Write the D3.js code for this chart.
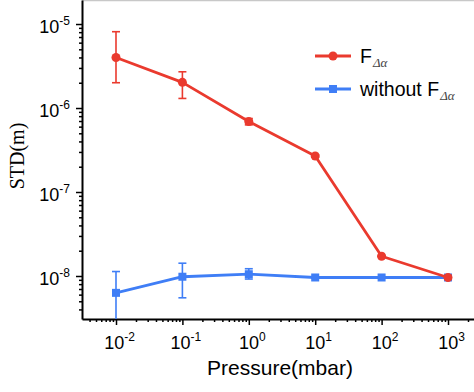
<!DOCTYPE html>
<html><head><meta charset="utf-8">
<script src="https://cdn.jsdelivr.net/npm/d3@7"></script>
<style>body{margin:0;background:#fff}svg{display:block}</style>
</head><body>
<svg id="c" width="474" height="392"></svg>
<script>
const pressure = [1e-2, 1e-1, 1e0, 1e1, 1e2, 1e3];
const withF = [4.0e-6, 2.02e-6, 6.9e-7, 2.68e-7, 1.72e-8, 9.6e-9];
const withFLow = [2.0e-6, 1.3e-6, 6.3e-7, 2.6e-7, 1.7e-8, 9.5e-9];
const withFHigh = [8.1e-6, 2.7e-6, 7.5e-7, 2.76e-7, 1.74e-8, 9.7e-9];
const withoutF = [6.3e-9, 9.8e-9, 1.05e-8, 9.6e-9, 9.6e-9, 9.6e-9];
const withoutFLow = [1.3e-9, 5.5e-9, 9.2e-9, 9.4e-9, 9.4e-9, 9.4e-9];
const withoutFHigh = [1.13e-8, 1.42e-8, 1.22e-8, 9.8e-9, 9.8e-9, 9.8e-9];
const xTickExp = [-2, -1, 0, 1, 2, 3];
const yTickExp = [-8, -7, -6, -5];
const seriesNames = ["F", "without F"];

const RED = "#ea3a2e", BLUE = "#3f7ef6";
const svg = d3.select("#c");
const L = 82, B = 319, T = 0, R = 482;
const x = d3.scaleLog().domain([Math.pow(10,-2.512), Math.pow(10,3.512)]).range([L, R]);
const y = d3.scaleLog().domain([Math.pow(10,-8.512), Math.pow(10,-4.714)]).range([B, T]);

function minors(lo, hi){ const a=[]; for(let e=lo;e<=hi;e++) for(let k=2;k<=9;k++) a.push(k*Math.pow(10,e)); return a; }
const xMin = minors(-3,3).filter(v=>v>x.domain()[0]&&v<x.domain()[1]);
const yMin = minors(-9,-5).filter(v=>v>y.domain()[0]&&v<y.domain()[1]);

// top frame line
svg.append("line").attr("x1",L).attr("x2",474).attr("y1",0.5).attr("y2",0.5).attr("stroke","#c8c8c8").attr("stroke-width",1.5);

// minor ticks
svg.append("g").attr("transform",`translate(0,${B})`).call(d3.axisBottom(x).tickValues(xMin).tickSize(3).tickFormat("")).call(g=>{g.select(".domain").remove();g.selectAll("line").attr("stroke-width",1.5);});
svg.append("g").attr("transform",`translate(${L},0)`).call(d3.axisLeft(y).tickValues(yMin).tickSize(3).tickFormat("")).call(g=>{g.select(".domain").remove();g.selectAll("line").attr("stroke-width",1.5);});

// major axes
const xa = svg.append("g").attr("transform",`translate(0,${B})`)
  .call(d3.axisBottom(x).tickValues(xTickExp.map(e=>Math.pow(10,e))).tickSize(6).tickSizeOuter(0).tickPadding(8));
const ya = svg.append("g").attr("transform",`translate(${L},0)`)
  .call(d3.axisLeft(y).tickValues(yTickExp.map(e=>Math.pow(10,e))).tickSize(6).tickSizeOuter(0).tickPadding(6));
[xa,ya].forEach(g=>{
  g.select(".domain").attr("stroke-width",2);
  g.selectAll(".tick line").attr("stroke-width",1.5);
  g.selectAll(".tick text").each(function(d){
    const t=d3.select(this); const e=Math.round(Math.log10(d));
    t.text(null).attr("font-family","Liberation Sans, Arial, sans-serif").attr("font-size",18).attr("fill","#000");
    t.append("tspan").text("10");
    t.append("tspan").attr("font-size",12).attr("dy",-8).text(String(e));
  });
});
xa.selectAll(".tick text").attr("dy","0.9em").attr("dx",3);
ya.selectAll(".tick text").attr("dy","0.45em");

// axis titles
svg.append("text").attr("x",280).attr("y",375).attr("text-anchor","middle")
  .attr("font-family","Liberation Sans, Arial, sans-serif").attr("font-size",21).text("Pressure(mbar)");
svg.append("text").attr("transform","translate(24,156) rotate(-90)").attr("text-anchor","middle")
  .attr("font-family","Liberation Serif, Times New Roman, serif").attr("font-size",20).text("STD(m)");

// clip
svg.append("clipPath").attr("id","clip").append("rect").attr("x",L).attr("y",T).attr("width",R-L).attr("height",B-T);
const plot = svg.append("g").attr("clip-path","url(#clip)");

function drawSeries(vals, lo, hi, color, shape){
  const g = plot.append("g");
  const line = d3.line().x((d,i)=>x(pressure[i])).y(d=>y(d));
  g.append("path").datum(vals).attr("d",line).attr("fill","none").attr("stroke",color).attr("stroke-width",2.8).attr("stroke-linejoin","round");
  pressure.forEach((p,i)=>{
    const cx=x(p);
    g.append("line").attr("x1",cx).attr("x2",cx).attr("y1",y(lo[i])).attr("y2",y(hi[i])).attr("stroke",color).attr("stroke-width",1.6);
    [lo[i],hi[i]].forEach(v=>g.append("line").attr("x1",cx-4).attr("x2",cx+4).attr("y1",y(v)).attr("y2",y(v)).attr("stroke",color).attr("stroke-width",1.6));
  });
  pressure.forEach((p,i)=>{
    if(shape==="circle") g.append("circle").attr("cx",x(p)).attr("cy",y(vals[i])).attr("r",4.5).attr("fill",color);
    else g.append("rect").attr("x",x(p)-4).attr("y",y(vals[i])-4).attr("width",8).attr("height",8).attr("fill",color);
  });
}
drawSeries(withoutF, withoutFLow, withoutFHigh, BLUE, "square");
drawSeries(withF, withFLow, withFHigh, RED, "circle");

// legend
const leg = svg.append("g").attr("font-family","Liberation Sans, Arial, sans-serif");
[[RED,"circle",56,seriesNames[0]],[BLUE,"square",89,seriesNames[1]]].forEach(([c,s,ly,name])=>{
  leg.append("line").attr("x1",315).attr("x2",351).attr("y1",ly).attr("y2",ly).attr("stroke",c).attr("stroke-width",2.8);
  if(s==="circle") leg.append("circle").attr("cx",333).attr("cy",ly).attr("r",4.5).attr("fill",c);
  else leg.append("rect").attr("x",329).attr("y",ly-4).attr("width",8).attr("height",8).attr("fill",c);
  const t = leg.append("text").attr("x",360).attr("y",ly+7).attr("font-size",19.5).attr("fill","#000");
  t.append("tspan").text(name);
  t.append("tspan").attr("dy",4).attr("dx",1).attr("font-size",13).attr("font-style","italic").attr("font-family","Liberation Serif, serif").attr("fill","#444").text("\u0394\u03b1");
});
</script>
</body></html>
